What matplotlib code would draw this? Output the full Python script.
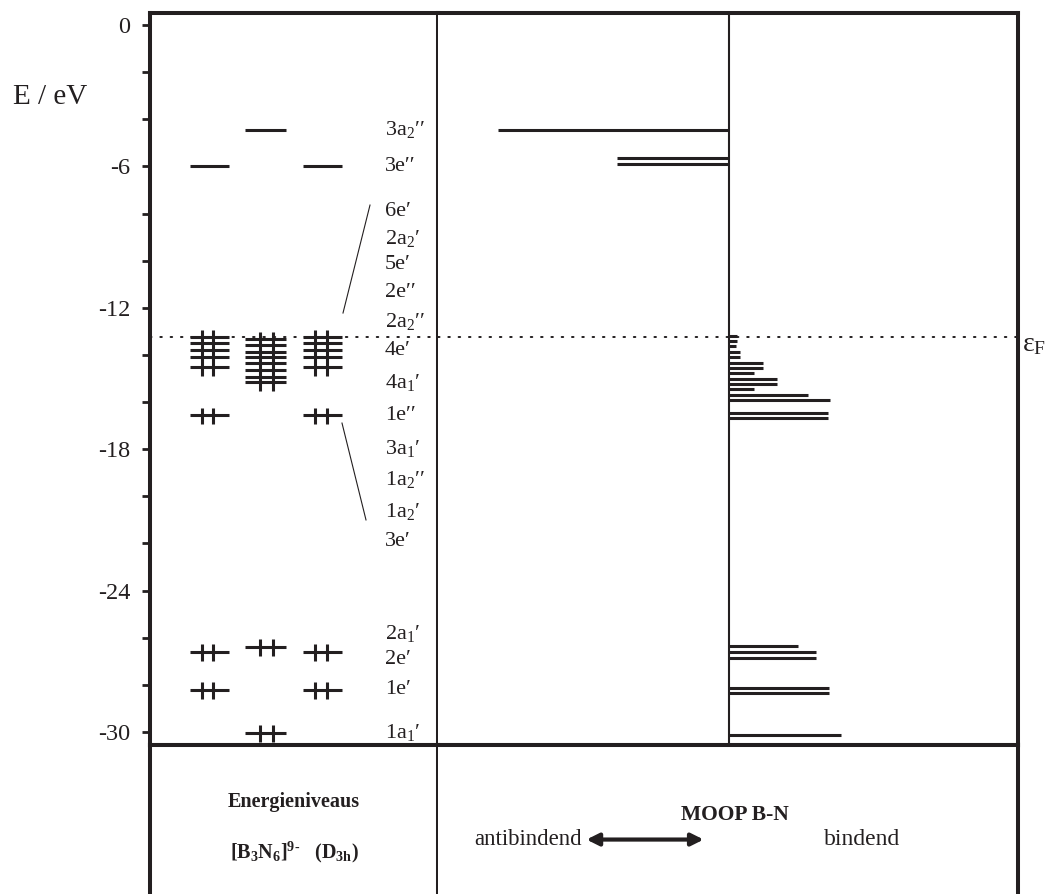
import matplotlib
matplotlib.use("Agg")
import matplotlib.pyplot as plt
from matplotlib.ticker import FixedLocator, FuncFormatter

plt.rcParams["font.family"] = ["Liberation Serif", "DejaVu Serif"]
plt.rcParams["mathtext.fontset"] = "custom"
plt.rcParams["mathtext.rm"] = "Liberation Serif"
plt.rcParams["mathtext.bf"] = "Liberation Serif:bold"
plt.rcParams["mathtext.it"] = "Liberation Serif:italic"

INK = "#231f20"

# energy levels (eV) per column of the level diagram
col1_E = [-6.0, -13.24, -13.49, -13.79, -14.09, -14.51, -16.55, -26.6, -28.2]
col1_occ = [0, 2, 2, 2, 2, 2, 2, 2, 2]
col2_E = [-4.45, -13.33, -13.58, -13.86, -14.10, -14.35, -14.64, -14.92, -15.13, -26.39, -30.04]
col2_occ = [0, 2, 2, 2, 2, 2, 2, 2, 2, 2, 2]
col3_E = [-6.0, -13.24, -13.49, -13.79, -14.09, -14.51, -16.55, -26.6, -28.2]
col3_occ = [0, 2, 2, 2, 2, 2, 2, 2, 2]

# level labels and their heights
level_labels = ["3a$_2$′′", "3e′′", "6e′", "2a$_2$′", "5e′", "2e′′", "2a$_2$′′", "4e′",
                "4a$_1$′", "1e′′", "3a$_1$′", "1a$_2$′′", "1a$_2$′", "3e′",
                "2a$_1$′", "2e′", "1e′", "1a$_1$′"]
label_E = [-4.45, -6.02, -7.93, -9.04, -10.18, -11.33, -12.6, -13.83,
           -15.15, -16.55, -17.95, -19.3, -20.66, -21.93,
           -25.8, -26.94, -28.21, -30.04]

# MOOP B-N per orbital
moop_E = [-4.45, -5.64, -5.90,
          -13.19, -13.39, -13.62, -13.87, -14.10, -14.33, -14.55, -14.78,
          -15.01, -15.23, -15.46, -15.69, -15.91, -16.45, -16.67,
          -26.35, -26.60, -26.84, -28.13, -28.35, -30.12]
moop_val = [-2.31, -1.12, -1.12,
            0.08, 0.08, 0.07, 0.11, 0.11, 0.34, 0.34, 0.25,
            0.48, 0.48, 0.25, 0.79, 1.01, 0.99, 0.99,
            0.69, 0.87, 0.87, 1.00, 1.00, 1.12]

fermi_E = -13.22
ytick_vals = list(range(0, -31, -2))

fig = plt.figure(figsize=(10.63, 8.94), dpi=100)
W, H = 1063, 894
def rect(x0, y0, x1, y1):
    return [x0 / W, 1 - y1 / H, (x1 - x0) / W, (y1 - y0) / H]

axL = fig.add_axes(rect(150, 13, 438, 745))
axR = fig.add_axes(rect(438, 13, 1018, 745), sharey=axL)
axBL = fig.add_axes(rect(150, 745, 438, 900))
axBR = fig.add_axes(rect(438, 745, 1018, 900))

ylim = (-30.55, 0.51)
axL.set_ylim(*ylim)
axL.set_xlim(0, 288)
axR.set_xlim(-2.905, 2.895)

spine_lw = 2.9
for ax in (axL, axR, axBL, axBR):
    for s in ax.spines.values():
        s.set_linewidth(spine_lw)
        s.set_color(INK)
axR.spines["left"].set_visible(False)
axBR.spines["left"].set_visible(False)
axBL.spines["bottom"].set_visible(False)
axBR.spines["bottom"].set_visible(False)

# y axis ticks
axL.yaxis.set_major_locator(FixedLocator(ytick_vals))
axL.yaxis.set_major_formatter(FuncFormatter(lambda v, p: f"{int(round(v))}" if round(v) % 6 == 0 else ""))
axL.tick_params(axis="y", direction="out", length=6, width=2, colors=INK, labelsize=17.5, pad=8)
axL.tick_params(axis="x", bottom=False, labelbottom=False)
axR.tick_params(left=False, labelleft=False, bottom=False, labelbottom=False)
for ax in (axBL, axBR):
    ax.set_xticks([])
    ax.set_yticks([])
    ax.set_xlim(0, 1)
    ax.set_ylim(0, 1)

# level diagram
lw = 2.2
columns = [(col1_E, col1_occ, 40, 79, (51.7, 63.3)),
           (col2_E, col2_occ, 95, 136, (110, 122.7)),
           (col3_E, col3_occ, 153, 192, (165, 176.7))]
for energies, occ, x0, x1, strokes in columns:
    axL.hlines(energies, x0, x1, color=INK, lw=lw)
    occupied = sorted([e for e, o in zip(energies, occ) if o], reverse=True)
    groups = []
    for e in occupied:
        if groups and groups[-1][-1] - e < 0.5:
            groups[-1].append(e)
        else:
            groups.append([e])
    for g in groups:
        for xs in strokes:
            axL.vlines(xs, min(g) - 0.38, max(g) + 0.32, color=INK, lw=lw)

for lab, e in zip(level_labels, label_E):
    axL.text(235, e, lab, fontsize=16, ha="left", va="center", color=INK)

axL.plot([193, 220], [-12.22, -7.64], color=INK, lw=0.8)
axL.plot([192, 216], [-16.89, -21.0], color=INK, lw=0.8)

# MOOP bars
axR.axvline(0, color=INK, lw=1.5)
axR.hlines(moop_E, 0, moop_val, color=INK, lw=lw)

# Fermi level
for ax in (axL, axR):
    ax.axhline(fermi_E, color=INK, lw=1.4, linestyle=(0, (0.8, 4.5)), dash_capstyle="round")
fig.text(1022 / W, 1 - 345 / H, "ε$_\\mathrm{F}$", fontsize=20, ha="left", va="center", color=INK)
fig.text(13 / W, 1 - 97 / H, "E / eV", fontsize=21, ha="left", va="center", color=INK)

# bottom legend boxes
axBL.text(0.5, 0.63, "Energieniveaus", fontsize=14.5, fontweight="bold", ha="center", va="center", color=INK)
axBL.text(0.5, 0.31, r"[B$_\mathbf{3}$N$_\mathbf{6}$]$^\mathbf{9\text{-}}$   (D$_\mathbf{3h}$)",
          fontsize=14.5, fontweight="bold", ha="center", va="center", color=INK)
axBR.text(0.512, 0.55, "MOOP B-N", fontsize=15.5, fontweight="bold", ha="center", va="center", color=INK)
axBR.text(0.155, 0.39, "antibindend", fontsize=16.5, ha="center", va="center", color=INK)
axBR.text(0.731, 0.39, "bindend", fontsize=17, ha="center", va="center", color=INK)
axBR.annotate("", xy=(0.458, 0.39), xytext=(0.256, 0.39), xycoords="axes fraction",
              arrowprops=dict(arrowstyle="<|-|>", lw=3, color=INK, mutation_scale=18, shrinkA=0, shrinkB=0))

fig.savefig("out.png", dpi=100)
